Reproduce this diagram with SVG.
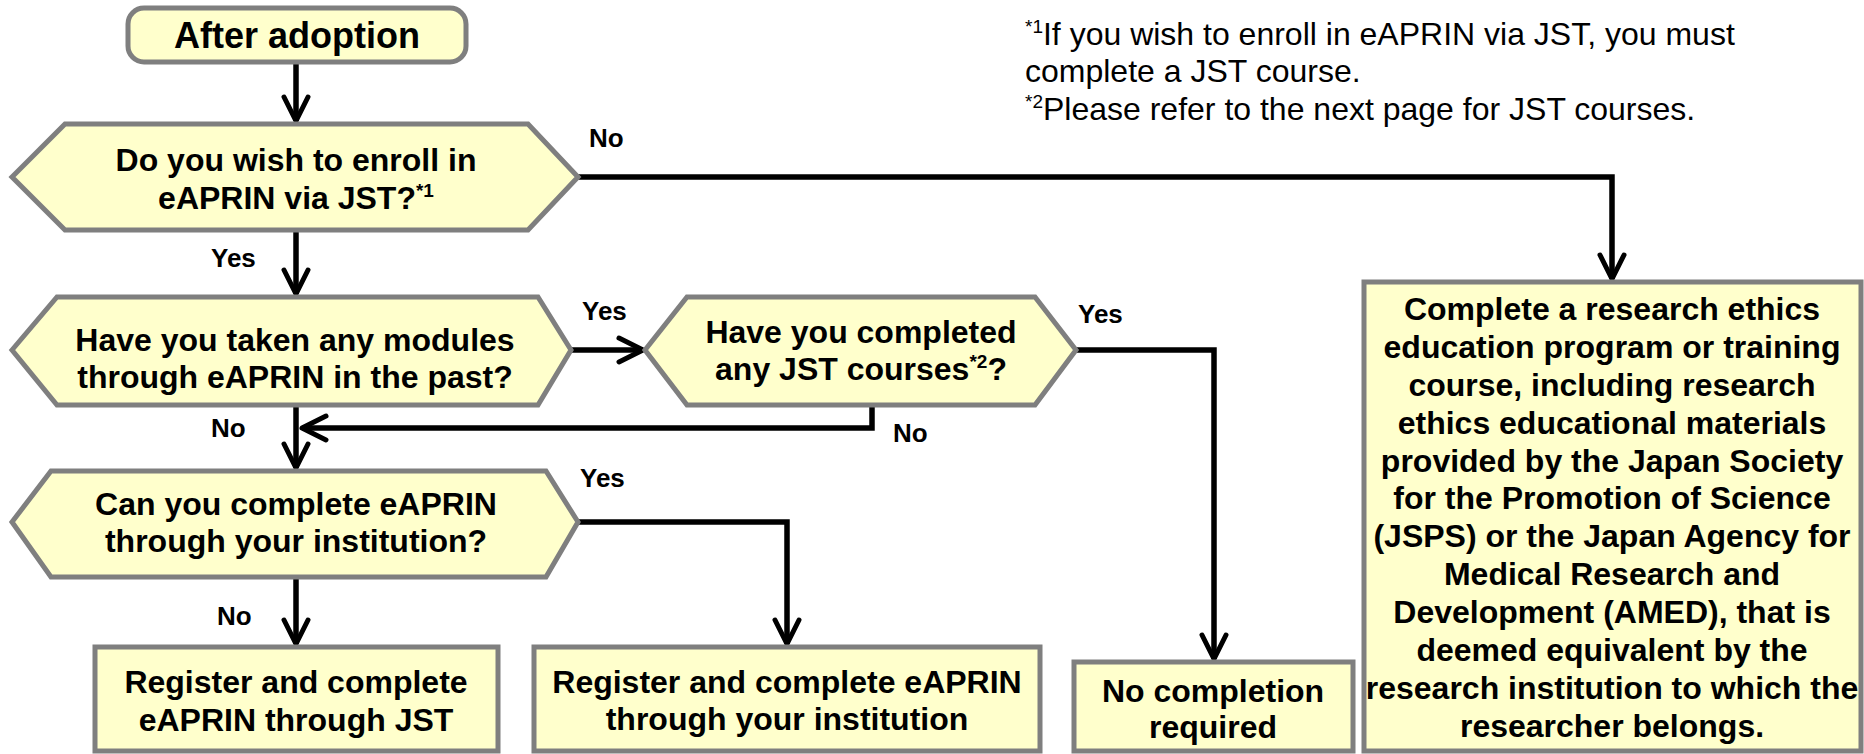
<svg xmlns="http://www.w3.org/2000/svg" width="1864" height="754" viewBox="0 0 1864 754">
<style>
.node{fill:#FFFFCC;stroke:#7F7F7F;stroke-width:5;stroke-linejoin:miter}
.t{font-family:"Liberation Sans",Arial,sans-serif;font-weight:bold;font-size:32px;fill:#000;text-anchor:middle}
.lbl{font-family:"Liberation Sans",Arial,sans-serif;font-weight:bold;font-size:26px;fill:#000}
.note{font-family:"Liberation Sans",Arial,sans-serif;font-size:32px;fill:#000}
.c{fill:none;stroke:#000;stroke-width:5.5;stroke-linejoin:miter}
.sup{font-size:19px}
</style>
<defs>
<marker id="arr" markerUnits="userSpaceOnUse" markerWidth="40" markerHeight="40" viewBox="-30 -20 40 40" refX="0" refY="0" orient="auto">
<path d="M-24,-12 L0,0 L-24,12" fill="none" stroke="#000" stroke-width="5" stroke-linejoin="round" stroke-linecap="round"/>
</marker>
</defs>

<g id="connectors">
<path class="c" d="M296,62 L296,121" marker-end="url(#arr)"/>
<path class="c" d="M578,177 L1612,177 L1612,279" marker-end="url(#arr)"/>
<path class="c" d="M296,230 L296,294" marker-end="url(#arr)"/>
<path class="c" d="M571,350 L643,350" marker-end="url(#arr)"/>
<path class="c" d="M1076,350 L1214,350 L1214,659" marker-end="url(#arr)"/>
<path class="c" d="M872,405 L872,428 L302,428" marker-end="url(#arr)"/>
<path class="c" d="M296,405 L296,468" marker-end="url(#arr)"/>
<path class="c" d="M578,522 L787,522 L787,644" marker-end="url(#arr)"/>
<path class="c" d="M296,577 L296,644" marker-end="url(#arr)"/>
<text class="lbl" x="589" y="147">No</text>
<text class="lbl" x="211" y="267">Yes</text>
<text class="lbl" x="582" y="320">Yes</text>
<text class="lbl" x="1078" y="323">Yes</text>
<text class="lbl" x="211" y="437">No</text>
<text class="lbl" x="893" y="442">No</text>
<text class="lbl" x="580" y="487">Yes</text>
<text class="lbl" x="217" y="625">No</text>
</g>

<g id="start">
<rect class="node" x="128" y="8" width="338" height="54" rx="16" ry="16"/>
<text class="t" x="297" y="48" style="font-size:36px">After adoption</text>
</g>

<g id="q1">
<polygon class="node" points="12,177 65,124 528,124 578,177 528,230 65,230"/>
<text class="t" x="296" y="171">Do you wish to enroll in</text>
<text class="t" x="296" y="209">eAPRIN via JST?<tspan class="sup" dy="-12">*1</tspan></text>
</g>

<g id="q2">
<polygon class="node" points="12,350 57,297 538,297 571,350 538,405 57,405"/>
<text class="t" x="295" y="351">Have you taken any modules</text>
<text class="t" x="295" y="388">through eAPRIN in the past?</text>
</g>

<g id="q3">
<polygon class="node" points="645,350 687,297 1035,297 1076,350 1035,405 687,405"/>
<text class="t" x="861" y="343">Have you completed</text>
<text class="t" x="861" y="380">any JST courses<tspan class="sup" dy="-12">*2</tspan><tspan dy="12">?</tspan></text>
</g>

<g id="q4">
<polygon class="node" points="12,522 51,471 546,471 578,522 546,577 51,577"/>
<text class="t" x="296" y="515">Can you complete eAPRIN</text>
<text class="t" x="296" y="552">through your institution?</text>
</g>

<g id="r1">
<rect class="node" x="95" y="647" width="403" height="104"/>
<text class="t" x="296" y="693">Register and complete</text>
<text class="t" x="296" y="731">eAPRIN through JST</text>
</g>

<g id="r2">
<rect class="node" x="534" y="647" width="506" height="104"/>
<text class="t" x="787" y="693">Register and complete eAPRIN</text>
<text class="t" x="787" y="730">through your institution</text>
</g>

<g id="r3">
<rect class="node" x="1074" y="662" width="279" height="89"/>
<text class="t" x="1213" y="702">No completion</text>
<text class="t" x="1213" y="738">required</text>
</g>

<g id="r4">
<rect class="node" x="1364" y="282" width="497" height="469"/>
<text class="t" x="1612" y="320">Complete a research ethics</text>
<text class="t" x="1612" y="358">education program or training</text>
<text class="t" x="1612" y="396">course, including research</text>
<text class="t" x="1612" y="434">ethics educational materials</text>
<text class="t" x="1612" y="472">provided by the Japan Society</text>
<text class="t" x="1612" y="509">for the Promotion of Science</text>
<text class="t" x="1612" y="547">(JSPS) or the Japan Agency for</text>
<text class="t" x="1612" y="585">Medical Research and</text>
<text class="t" x="1612" y="623">Development (AMED), that is</text>
<text class="t" x="1612" y="661">deemed equivalent by the</text>
<text class="t" x="1612" y="699">research institution to which the</text>
<text class="t" x="1612" y="737">researcher belongs.</text>
</g>

<g id="notes">
<text class="note" x="1025" y="45"><tspan class="sup" dy="-12">*1</tspan><tspan dy="12">If you wish to enroll in eAPRIN via JST, you must</tspan></text>
<text class="note" x="1025" y="82">complete a JST course.</text>
<text class="note" x="1025" y="120"><tspan class="sup" dy="-12">*2</tspan><tspan dy="12">Please refer to the next page for JST courses.</tspan></text>
</g>
</svg>
